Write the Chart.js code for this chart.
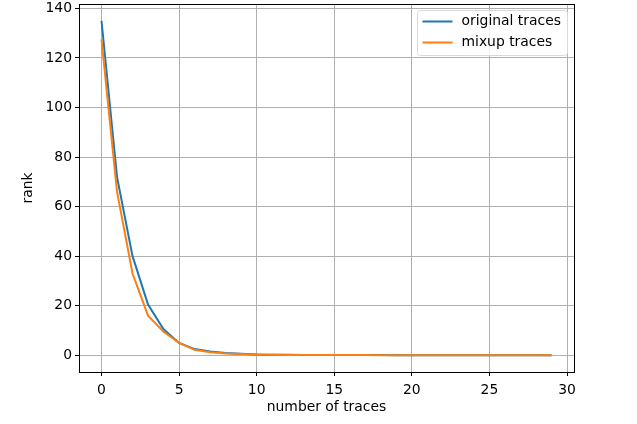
<!DOCTYPE html>
<html>
<head>
<meta charset="utf-8">
<script src="https://cdn.jsdelivr.net/npm/chart.js@4/dist/chart.umd.min.js"></script>
<style>
  html, body { margin: 0; padding: 0; background: #fff; }
  #wrap { width: 637px; height: 424px; }
</style>
</head>
<body>
<div id="wrap"><canvas id="chart" width="637" height="424"></canvas></div>
<script>
const numTraces = [0, 1, 2, 3, 4, 5, 6, 7, 8, 9, 10, 11, 12, 13, 14, 15, 16, 17, 18, 19, 20, 21, 22, 23, 24, 25, 26, 27, 28, 29];
const originalRank = [135, 72, 40, 20.5, 10.5, 5, 2.5, 1.5, 0.9, 0.6, 0.35, 0.25, 0.2, 0.15, 0.12, 0.1, 0.08, 0.07, 0.06, 0.05, 0.05, 0.04, 0.04, 0.03, 0.03, 0.03, 0.02, 0.02, 0.02, 0.02];
const mixupRank = [127.5, 66, 33, 16, 9.5, 5, 2.2, 1.2, 0.7, 0.5, 0.3, 0.2, 0.15, 0.12, 0.1, 0.08, 0.07, 0.06, 0.05, 0.04, 0.04, 0.03, 0.03, 0.03, 0.02, 0.02, 0.02, 0.02, 0.01, 0.01];
const xTicks = [0, 5, 10, 15, 20, 25, 30];
const yTicks = [0, 20, 40, 60, 80, 100, 120, 140];

const FONT = 'DejaVu Sans';
const FSIZE = 13.9;

// frame (top/right spines) + matplotlib-style legend
const framePlugin = {
    id: 'frame',
    afterDraw(chart) {
        const { ctx, chartArea: a } = chart;
        ctx.save();
        ctx.strokeStyle = '#000';
        ctx.lineWidth = 1;
        ctx.strokeRect(Math.round(a.left) + 0.5, Math.round(a.top) + 0.5,
            Math.round(a.right - a.left), Math.round(a.bottom - a.top));

        // legend
        const bx = 417.5, by = 10.5, bw = 150, bh = 45;
        ctx.fillStyle = 'rgba(255,255,255,0.8)';
        ctx.strokeStyle = '#d9d9d9';
        ctx.beginPath();
        ctx.roundRect(bx, by, bw, bh, 3);
        ctx.fill();
        ctx.stroke();
        ctx.font = FSIZE + 'px ' + FONT;
        ctx.textBaseline = 'middle';
        chart.data.datasets.forEach((ds, i) => {
            const y = by + 11 + i * 21;
            ctx.strokeStyle = ds.borderColor;
            ctx.lineWidth = 2;
            ctx.beginPath();
            ctx.moveTo(bx + 5, y);
            ctx.lineTo(bx + 35, y);
            ctx.stroke();
            ctx.fillStyle = '#000';
            ctx.fillText(ds.label, bx + 44, y);
        });
        ctx.restore();
    }
};

new Chart(document.getElementById('chart'), {
    type: 'line',
    data: {
        datasets: [
            {
                label: 'original traces',
                data: numTraces.map((x, i) => ({ x: x, y: originalRank[i] })),
                borderColor: '#1f77b4',
                borderWidth: 2,
                pointRadius: 0,
                tension: 0,
                order: 2
            },
            {
                label: 'mixup traces',
                data: numTraces.map((x, i) => ({ x: x, y: mixupRank[i] })),
                borderColor: '#ff7f0e',
                borderWidth: 2,
                pointRadius: 0,
                tension: 0,
                order: 1
            }
        ]
    },
    options: {
        responsive: false,
        animation: false,
        events: [],
        layout: { padding: { top: 4, right: 63, left: 0, bottom: 0 } },
        plugins: {
            legend: { display: false },
            tooltip: { enabled: false }
        },
        scales: {
            x: {
                type: 'linear',
                min: -1.45,
                max: 30.45,
                afterBuildTicks: axis => { axis.ticks = xTicks.map(v => ({ value: v })); },
                afterFit: axis => { axis.height = 52; },
                grid: { color: '#b0b0b0', lineWidth: 1, tickColor: '#000', tickLength: 4 },
                border: { color: '#000', width: 1 },
                ticks: { color: '#000', font: { family: FONT, size: FSIZE }, padding: 6, maxRotation: 0 },
                title: { display: true, text: 'number of traces', color: '#000', font: { family: FONT, size: FSIZE }, padding: { top: 2, bottom: 8 } }
            },
            y: {
                type: 'linear',
                min: -6.75,
                max: 141.75,
                afterBuildTicks: axis => { axis.ticks = yTicks.map(v => ({ value: v })); },
                afterFit: axis => { axis.width = 79; axis.paddingTop = 0; },
                grid: { color: '#b0b0b0', lineWidth: 1, tickColor: '#000', tickLength: 4 },
                border: { color: '#000', width: 1 },
                ticks: { color: '#000', font: { family: FONT, size: FSIZE }, padding: 3 },
                title: { display: true, text: 'rank', color: '#000', font: { family: FONT, size: FSIZE }, padding: { top: 20, bottom: 4 } }
            }
        }
    },
    plugins: [framePlugin]
});
</script>
</body>
</html>
